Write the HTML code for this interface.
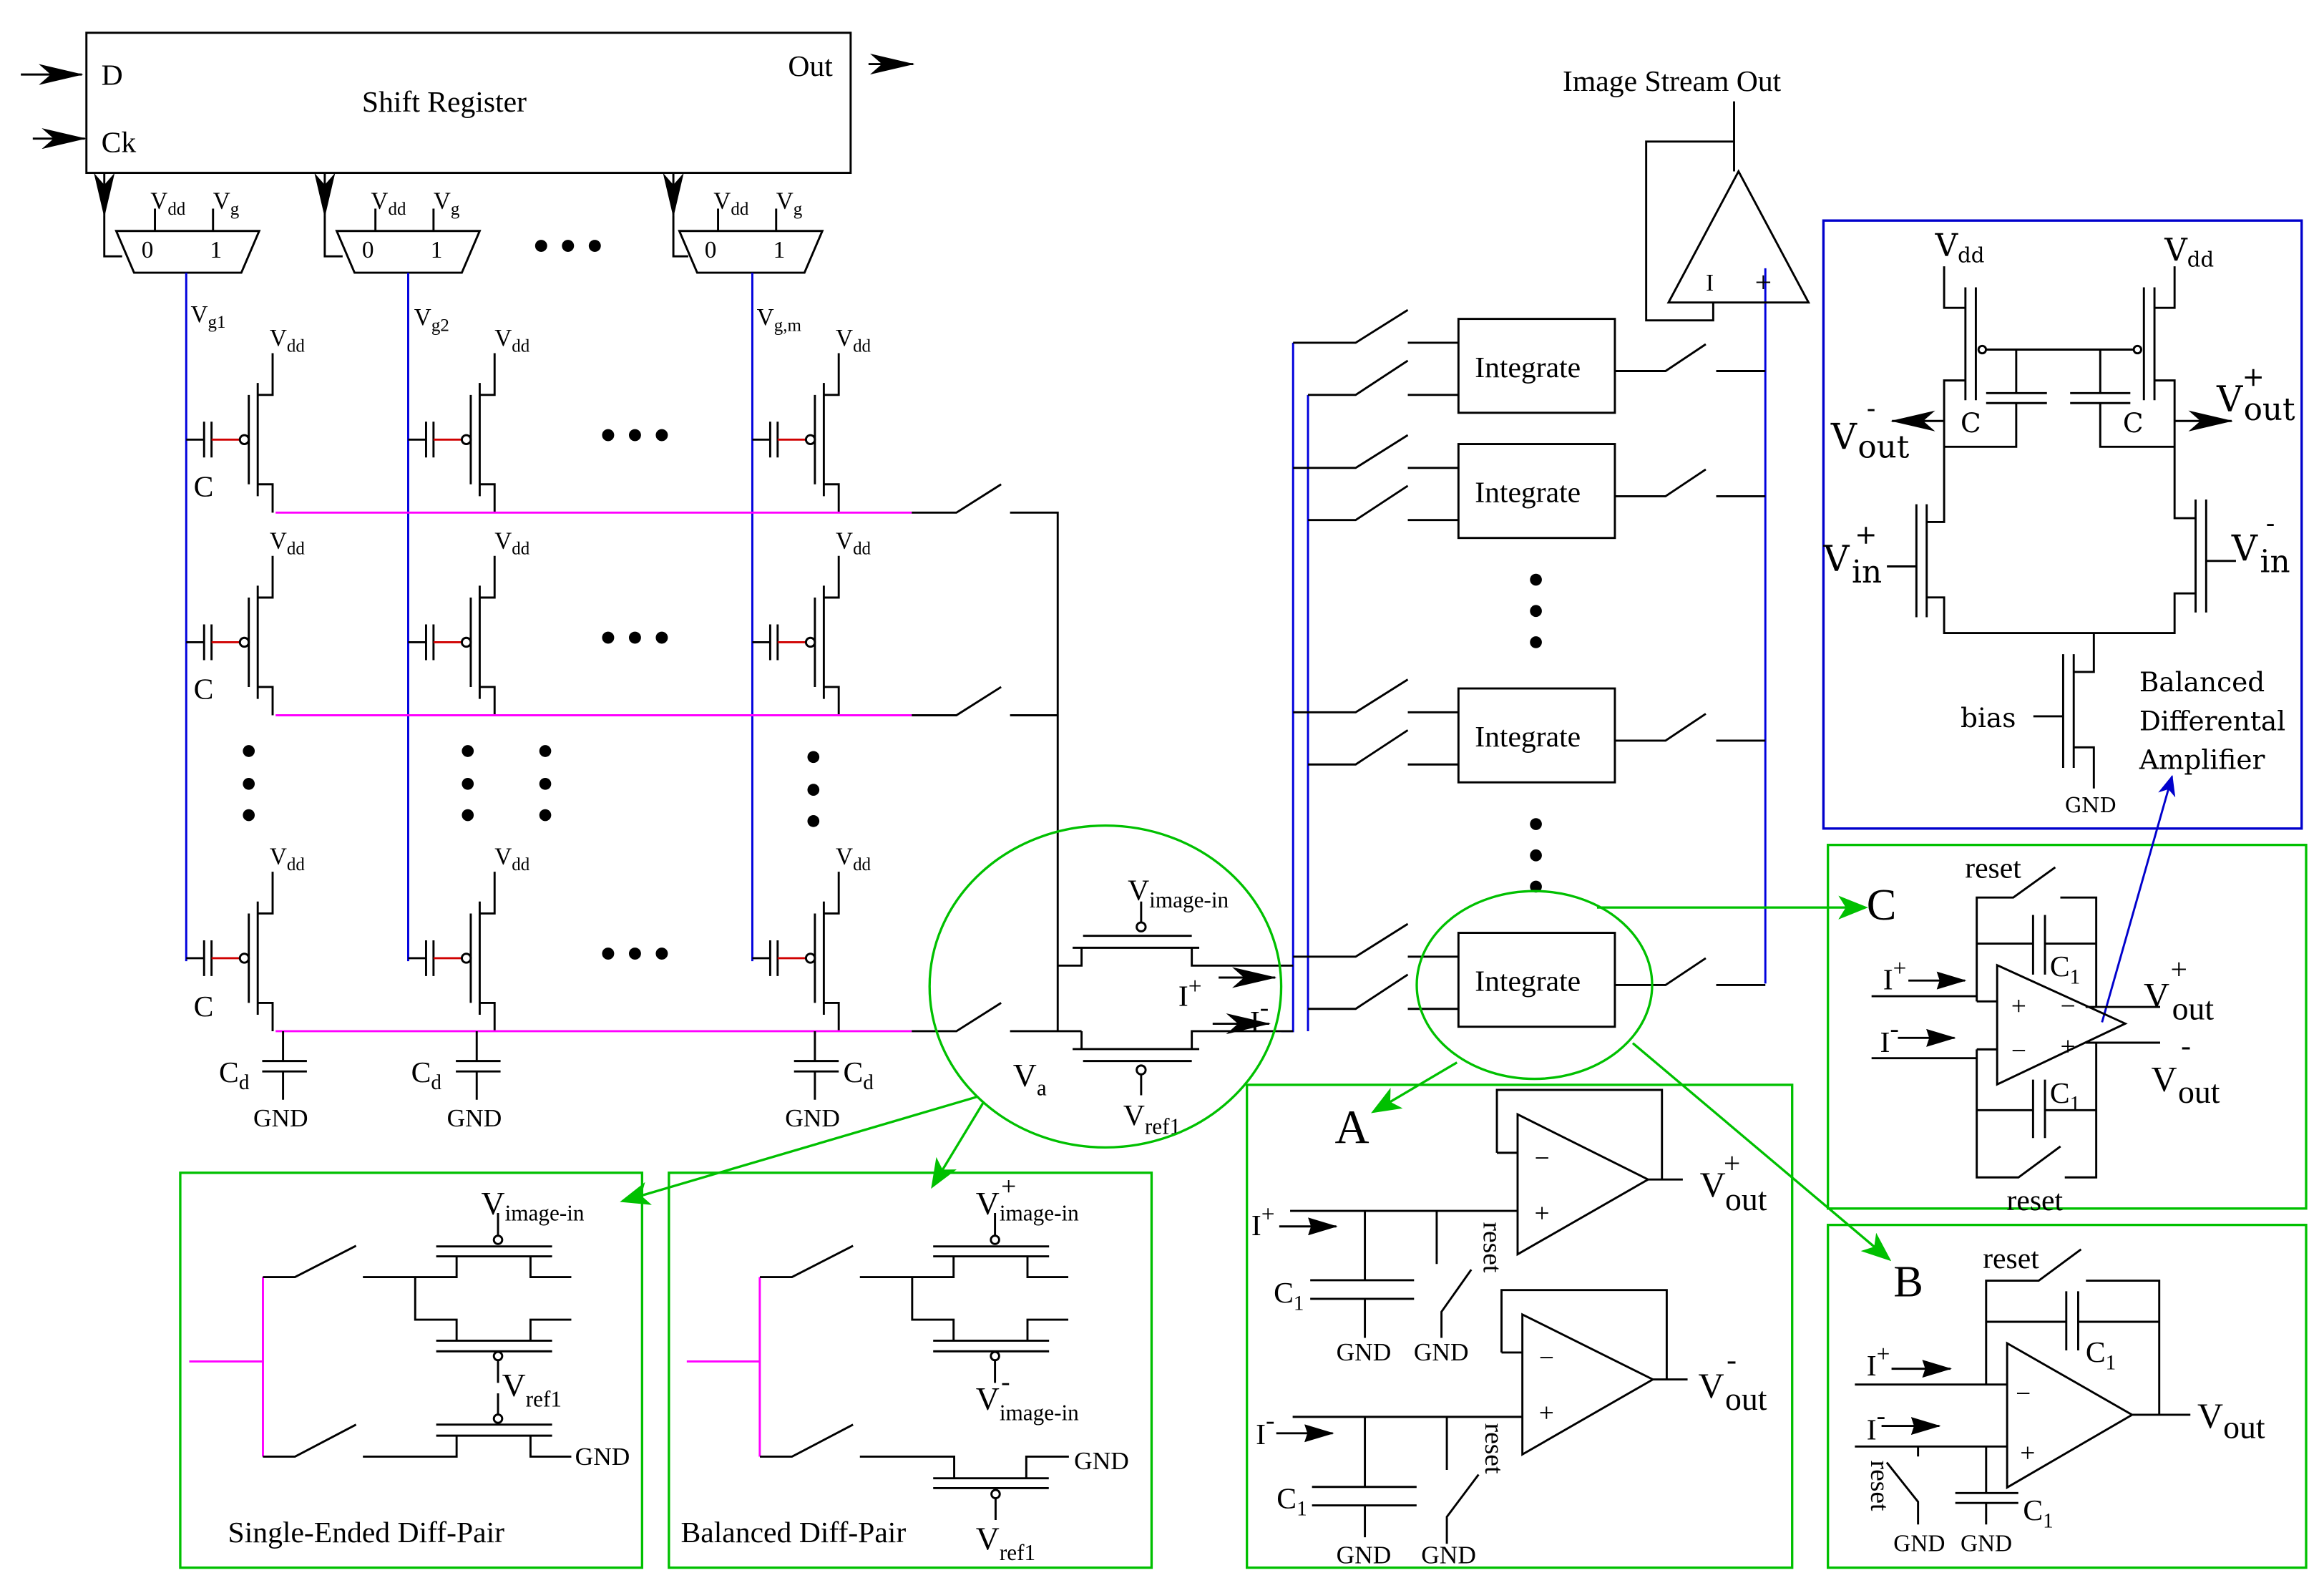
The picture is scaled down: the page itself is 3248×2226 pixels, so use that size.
<!DOCTYPE html>
<html><head><meta charset="utf-8"><style>
html,body{margin:0;padding:0;background:#fff}
svg{display:block}
text{font-family:"Liberation Serif",serif;fill:#000}
.dj{font-family:"DejaVu Serif","Liberation Serif",serif}
</style></head><body>
<svg width="3248" height="2226" viewBox="0 0 1560 1069" preserveAspectRatio="none" xmlns="http://www.w3.org/2000/svg">
<defs>
<marker id="ag" markerWidth="20" markerHeight="16" refX="18" refY="8" orient="auto" markerUnits="userSpaceOnUse"><path d="M0,0 L20,8 L0,16 L5,8z" fill="#00c000"/></marker>
<marker id="ablue" markerWidth="14" markerHeight="12" refX="13" refY="6" orient="auto" markerUnits="userSpaceOnUse"><path d="M0,0 L14,6 L0,12 L4,6z" fill="#0000cc"/></marker>
<marker id="abig" markerWidth="30" markerHeight="14" refX="29" refY="7" orient="auto" markerUnits="userSpaceOnUse"><path d="M0,0 L30,7 L0,14 L8,7z" fill="#000"/></marker>
<marker id="asm" markerWidth="20" markerHeight="12" refX="19" refY="6" orient="auto" markerUnits="userSpaceOnUse"><path d="M0,0 L20,6 L0,12 L2,6z" fill="#000"/></marker>
<g id="cell" fill="none" stroke="#000" stroke-width="1.4">
<path d="M0,0 H12 M12,-12 V12 M17,-12 V12 M42,-30 V30 M48,-38 V38 M48,-30 H58 V-58 M48,30 H58 V49"/>
<path d="M17,0 H36" stroke="#d00000"/>
<circle cx="39" cy="0" r="3"/>
</g>
<g id="mux" fill="none" stroke="#000" stroke-width="1.4">
<path d="M0,155 H96 L84,183 H12 Z M26,155 V140 M65,155 V140"/>
</g>
<g id="dp" fill="none" stroke="#000" stroke-width="1.4">
<!-- relative to single-ended panel origin -->
<path d="M127,913.6 M176.5,857 H198 L239,836 M243.6,857 H306.5 V843 M356.1,843 V857 H383.5 M292.8,836.4 H370.6 M292.8,843.1 H370.6 M334.3,829 V814"/>
<circle cx="334.3" cy="832" r="2.8"/>
<path d="M278.7,857 V885.6 H306.5 V899.7 M356.1,899.7 V885.6 H383.5 M292.8,899.7 H370.6 M292.8,906.8 H370.6"/>
<circle cx="334.3" cy="910" r="2.8"/>
<path d="M176.5,977.5 H198 L239,956"/>
</g>
</defs>

<g fill="none" stroke="#000" stroke-width="1.4">
<rect x="58" y="22" width="513" height="94"/>
<path d="M14,50 H55" marker-end="url(#abig)"/>
<path d="M22,93 H57" marker-end="url(#abig)"/>
<path d="M583,43 H613" marker-end="url(#abig)"/>
<path d="M70,116 V145" marker-end="url(#abig)"/>
<path d="M218,116 V145" marker-end="url(#abig)"/>
<path d="M452,116 V145" marker-end="url(#abig)"/>
<path d="M70,145 V172 H82 M218,145 V172 H230 M452,145 V172 H462"/>
</g>
<text x="68" y="57" font-size="20">D</text>
<text x="68" y="102" font-size="20">Ck</text>
<text x="243" y="75" font-size="20">Shift Register</text>
<text x="529" y="51" font-size="20">Out</text>

<use href="#mux" x="78"/><use href="#mux" x="226"/><use href="#mux" x="456"/>
<g font-size="16">
<text x="95" y="173">0</text><text x="141" y="173">1</text>
<text x="243" y="173">0</text><text x="289" y="173">1</text>
<text x="473" y="173">0</text><text x="519" y="173">1</text>
<text x="101" y="140">V<tspan font-size="12" dy="4">dd</tspan></text><text x="143" y="140">V<tspan font-size="12" dy="4">g</tspan></text>
<text x="249" y="140">V<tspan font-size="12" dy="4">dd</tspan></text><text x="291" y="140">V<tspan font-size="12" dy="4">g</tspan></text>
<text x="479" y="140">V<tspan font-size="12" dy="4">dd</tspan></text><text x="521" y="140">V<tspan font-size="12" dy="4">g</tspan></text>
</g>
<g font-size="30" font-weight="bold"><text x="358" y="175">• • •</text></g>

<g stroke="#0000dd" stroke-width="1.4" fill="none">
<path d="M125,183 V645 M274,183 V645 M505,183 V645"/>
<path d="M868,230 V692 H860 M878,265 V692"/>
<path d="M1185,180 V660"/>
</g>
<g font-size="16">
<text x="128" y="216">V<tspan font-size="12" dy="4">g1</tspan></text>
<text x="278" y="218">V<tspan font-size="12" dy="4">g2</tspan></text>
<text x="508" y="218">V<tspan font-size="12" dy="4">g,m</tspan></text>
</g>

<use href="#cell" x="125" y="295"/><use href="#cell" x="274" y="295"/><use href="#cell" x="505" y="295"/>
<use href="#cell" x="125" y="431"/><use href="#cell" x="274" y="431"/><use href="#cell" x="505" y="431"/>
<use href="#cell" x="125" y="643"/><use href="#cell" x="274" y="643"/><use href="#cell" x="505" y="643"/>
<g font-size="16">
<text x="181" y="232">V<tspan font-size="12" dy="4">dd</tspan></text><text x="332" y="232">V<tspan font-size="12" dy="4">dd</tspan></text><text x="561" y="232">V<tspan font-size="12" dy="4">dd</tspan></text>
<text x="181" y="368">V<tspan font-size="12" dy="4">dd</tspan></text><text x="332" y="368">V<tspan font-size="12" dy="4">dd</tspan></text><text x="561" y="368">V<tspan font-size="12" dy="4">dd</tspan></text>
<text x="181" y="580">V<tspan font-size="12" dy="4">dd</tspan></text><text x="332" y="580">V<tspan font-size="12" dy="4">dd</tspan></text><text x="561" y="580">V<tspan font-size="12" dy="4">dd</tspan></text>
</g>
<g font-size="20"><text x="130" y="333">C</text><text x="130" y="469">C</text><text x="130" y="682">C</text></g>
<g font-size="30" font-weight="bold"><text x="403" y="302">• • •</text><text x="403" y="438">• • •</text><text x="403" y="650">• • •</text></g>
<g fill="#000"><circle cx="167" cy="504" r="4"/><circle cx="167" cy="526" r="4"/><circle cx="167" cy="547" r="4"/>
<circle cx="314" cy="504" r="4"/><circle cx="314" cy="526" r="4"/><circle cx="314" cy="547" r="4"/>
<circle cx="366" cy="504" r="4"/><circle cx="366" cy="526" r="4"/><circle cx="366" cy="547" r="4"/>
<circle cx="546" cy="508" r="4"/><circle cx="546" cy="530" r="4"/><circle cx="546" cy="551" r="4"/>
<circle cx="1031" cy="389" r="4"/><circle cx="1031" cy="410" r="4"/><circle cx="1031" cy="431" r="4"/>
<circle cx="1031" cy="553" r="4"/><circle cx="1031" cy="574" r="4"/><circle cx="1031" cy="595" r="4"/></g>

<g stroke="#ff00ff" stroke-width="1.4" fill="none"><path d="M185,344 H612 M185,480 H612 M185,692 H612"/>
<path d="M127,913.6 H176.5 M176.5,857 V977.5 M461,913.6 H510 M510,857 V977.5"/></g>

<g fill="none" stroke="#000" stroke-width="1.4">
<path d="M612,344 H642 L672,325 M678,344 H710 V692"/>
<path d="M612,480 H642 L672,461 M678,480 H710"/>
<path d="M612,692 H642 L672,673 M678,692 H726"/>
<path d="M190,692 V712 M176,712 H206 M176,719 H206 M190,719 V738"/>
<path d="M320,692 V712 M306,712 H336 M306,719 H336 M320,719 V738"/>
<path d="M547,692 V712 M533,712 H563 M533,719 H563 M547,719 V738"/>
<path d="M727,628 H800 M766,619 V605 M720,636 H805 M726,636 V648 H710 M800,636 V648 H868"/>
<circle cx="766" cy="622" r="3"/>
<path d="M727,712 H800 M766,721 V735 M720,704 H805 M726,704 V692 M800,704 V692 H868"/>
<circle cx="766" cy="718" r="3"/>
<path d="M818,656 H856" marker-end="url(#abig)"/>
<path d="M814,687 H852" marker-end="url(#abig)"/>
<path d="M868,230 H910 L945,208 M878,265 H910 L945,242 M945,230 H979 M945,265 H979"/>
<path d="M868,314 H910 L945,292 M878,349 H910 L945,326 M945,314 H979 M945,349 H979"/>
<path d="M868,478 H910 L945,456 M878,513 H910 L945,490 M945,478 H979 M945,513 H979"/>
<path d="M868,642 H910 L945,620 M878,677 H910 L945,654 M945,642 H979 M945,677 H979"/>
<rect x="979" y="214" width="105" height="63"/><rect x="979" y="298" width="105" height="63"/>
<rect x="979" y="462" width="105" height="63"/><rect x="979" y="626" width="105" height="63"/>
<path d="M1084,249 H1118 L1145,231 M1152,249 H1185"/>
<path d="M1084,333 H1118 L1145,315 M1152,333 H1185"/>
<path d="M1084,497 H1118 L1145,479 M1152,497 H1185"/>
<path d="M1084,661 H1118 L1145,643 M1152,661 H1185"/>
<path d="M1167,115 L1120,203 H1214 Z"/>
<path d="M1164,68 V115 M1164,95 H1105 V215 H1150 V203"/>
</g>
<g font-size="20">
<text x="990" y="253">Integrate</text><text x="990" y="337">Integrate</text><text x="990" y="501">Integrate</text><text x="990" y="665">Integrate</text>
<text x="1049" y="61">Image Stream Out</text>
<text x="1145" y="195" font-size="16">I</text><text x="1178" y="196" font-size="20">+</text>
<text x="147" y="726">C<tspan font-size="14" dy="5">d</tspan></text>
<text x="276" y="726">C<tspan font-size="14" dy="5">d</tspan></text>
<text x="566" y="726">C<tspan font-size="14" dy="5">d</tspan></text>
<text x="170" y="756" font-size="17">GND</text><text x="300" y="756" font-size="17">GND</text><text x="527" y="756" font-size="17">GND</text>
<text x="757" y="604">V<tspan font-size="15" dy="5">image-in</tspan></text>
<text x="754" y="755">V<tspan font-size="15" dy="6">ref1</tspan></text>
<text x="680" y="729" font-size="22">V<tspan font-size="15" dy="6">a</tspan></text>
<text x="791" y="675">I<tspan font-size="16" dy="-8">+</tspan></text>
<text x="839" y="692">I<tspan font-size="18" dy="-10">-</tspan></text>
</g>

<!-- green ellipses & boxes -->
<g fill="none" stroke="#00c000" stroke-width="1.6">
<ellipse cx="742" cy="662" rx="118" ry="108"/>
<ellipse cx="1030" cy="661" rx="79" ry="63"/>
<rect x="121" y="787" width="310" height="265"/>
<rect x="449" y="787" width="324" height="265"/>
<rect x="837" y="728" width="366" height="324"/>
<rect x="1227" y="567" width="321" height="244"/>
<rect x="1227" y="822" width="321" height="230"/>
<path d="M656,736 L418,806" marker-end="url(#ag)"/>
<path d="M660,740 L626,796" marker-end="url(#ag)"/>
<path d="M978,713 L922,746" marker-end="url(#ag)"/>
<path d="M1072,609 H1252" marker-end="url(#ag)"/>
<path d="M1096,700 L1268,845" marker-end="url(#ag)"/>
</g>
<path d="M1411,686 L1458,521" stroke="#0000cc" stroke-width="1.4" fill="none" marker-end="url(#ablue)"/>

<!-- blue box -->
<rect x="1224" y="148" width="321" height="408" fill="none" stroke="#0000cc" stroke-width="1.6"/>
<g fill="none" stroke="#000" stroke-width="1.4">
<path d="M1305,178.7 V206.6 H1319.3 M1319.3,192.8 V268.6 M1326.3,192.8 V268.6 M1319.3,255.3 H1305 V350.3 H1293.3"/>
<circle cx="1330.6" cy="234.6" r="2.5"/><circle cx="1434.8" cy="234.6" r="2.5"/>
<path d="M1333,234.6 H1432 M1353.4,234.6 V263.8 M1333.2,263.8 H1374 M1333.2,270.5 H1374 M1353.4,270.5 V299.8 H1305"/>
<path d="M1409.8,234.6 V263.8 M1389.6,263.8 H1430 M1389.6,270.5 H1430 M1409.8,270.5 V299.8 H1459.7"/>
<path d="M1459.7,178.7 V206.6 H1446.2 M1446.2,192.8 V268.6 M1439.1,192.8 V268.6 M1446.2,255.3 H1459.7 V347.7 H1473.8"/>
<path d="M1305,282.5 H1270" marker-end="url(#abig)"/>
<path d="M1459.7,282.5 H1498" marker-end="url(#abig)"/>
<path d="M1293.3,338.4 V414.2 M1286.4,338.4 V414.2 M1266.6,380.1 H1286.4 M1293.3,400.9 H1305 V424.8 H1459.7 V398.2 H1473.8 M1473.8,335.2 V411 M1480.9,335.2 V411 M1480.9,376.4 H1500.9"/>
<path d="M1405.5,424.8 V450.9 H1392 M1392,439 V515.3 M1384.9,439 V515.3 M1364.9,480.7 H1384.9 M1392,501.5 H1405.5 V529.1"/>
</g>
<g class="dj">
<text x="1299" y="172" font-size="21" class="dj">V<tspan font-size="14" dy="4">dd</tspan></text>
<text x="1453" y="175" font-size="21" class="dj">V<tspan font-size="14" dy="4">dd</tspan></text>
<text x="1316" y="290" font-size="18" class="dj">C</text><text x="1425" y="290" font-size="18" class="dj">C</text>
<text x="1229" y="301" font-size="24" class="dj">V</text><text x="1253" y="280" font-size="18" class="dj">-</text><text x="1247" y="307" font-size="21" class="dj">out</text>
<text x="1488" y="276" font-size="24" class="dj">V</text><text x="1505" y="259" font-size="18" class="dj">+</text><text x="1506" y="282" font-size="21" class="dj">out</text>
<text x="1224" y="383" font-size="24" class="dj">V</text><text x="1245" y="365" font-size="18" class="dj">+</text><text x="1243" y="391" font-size="21" class="dj">in</text>
<text x="1498" y="376" font-size="24" class="dj">V</text><text x="1521" y="357" font-size="18" class="dj">-</text><text x="1517" y="384" font-size="21" class="dj">in</text>
<text x="1316" y="488" font-size="18" class="dj">bias</text>
<text x="1386" y="545" font-size="14" class="dj">GND</text>
<text x="1436" y="464" font-size="18" class="dj">Balanced</text>
<text x="1436" y="490" font-size="18" class="dj">Differental</text>
<text x="1436" y="516" font-size="18" class="dj">Amplifier</text>
</g>

<!-- C box -->
<g fill="none" stroke="#000" stroke-width="1.4">
<path d="M1326.9,672 V602.3 H1351.4 L1379.6,582 M1383,602.3 H1407.1 V675.7"/>
<path d="M1326.9,633.2 H1364.7 M1372.7,633.2 H1407.1 M1364.7,614 V654 M1372.7,614 V654"/>
<path d="M1326.9,672 H1340.6 M1256.3,668.5 H1326.9 M1256.3,710.1 H1326.9 M1326.9,704.2 V790.1 H1354.9 L1383.1,769.3 M1386,790.1 H1407.1 V699.7 M1326.9,704.2 H1340.6"/>
<path d="M1326.9,745 H1364.7 M1372.7,745 H1407.1 M1364.7,724.5 V763.7 M1372.7,724.5 V763.7"/>
<path d="M1340.6,647.7 V727.7 L1426.6,686.9 Z"/>
<path d="M1400,675.7 H1450 M1400,699.7 H1450"/>
<path d="M1281,658 H1319" marker-end="url(#asm)"/>
<path d="M1274,696.5 H1312" marker-end="url(#asm)"/>
</g>
<g font-size="20">
<text x="1253" y="617" font-size="30">C</text>
<text x="1319" y="589">reset</text>
<text x="1347" y="812">reset</text>
<text x="1376" y="655">C<tspan font-size="14" dy="5">1</tspan></text>
<text x="1376" y="740">C<tspan font-size="14" dy="5">1</tspan></text>
<text x="1350" y="681" font-size="18">+</text><text x="1383" y="681" font-size="18">−</text>
<text x="1350" y="711" font-size="18">−</text><text x="1383" y="708" font-size="18">+</text>
<text x="1264" y="664">I<tspan font-size="16" dy="-9">+</tspan></text>
<text x="1262" y="706">I<tspan font-size="18" dy="-10">-</tspan></text>
<text x="1439" y="676" font-size="24">V</text><text x="1457" y="657">+</text><text x="1458" y="684" font-size="22">out</text>
<text x="1444" y="732" font-size="24">V</text><text x="1464" y="708">-</text><text x="1462" y="740" font-size="22">out</text>
</g>

<!-- B box -->
<g fill="none" stroke="#000" stroke-width="1.4">
<path d="M1333.2,929.1 V859.4 H1368.5 L1396.9,838.4 M1400.2,859.4 H1449.4 V949.4"/>
<path d="M1333.2,887 H1387 M1395,887 H1449.4 M1387,866.5 V906.2 M1395,866.5 V906.2"/>
<path d="M1347.3,901.4 V998.2 L1431.2,949.4 Z M1431.2,949.4 H1470.3"/>
<path d="M1245.1,929.1 H1347.3 M1245.1,970.7 H1347.3"/>
<path d="M1333.2,970.7 V1001.9 M1312.5,1001.9 H1354.8 M1312.5,1008.6 H1354.8 M1333.2,1008.6 V1023"/>
<path d="M1287.5,970.7 V977.4 M1266.5,981.4 L1287.5,1007.8 V1023"/>
<path d="M1269.7,918.5 H1309.3" marker-end="url(#asm)"/>
<path d="M1263,956.9 H1301.8" marker-end="url(#asm)"/>
</g>
<g font-size="20">
<text x="1271" y="870" font-size="30">B</text>
<text x="1331" y="851">reset</text>
<text x="1400" y="914">C<tspan font-size="14" dy="5">1</tspan></text>
<text x="1358" y="1020">C<tspan font-size="14" dy="5">1</tspan></text>
<text x="1353" y="941" font-size="18">−</text><text x="1356" y="981" font-size="18">+</text>
<text x="1253" y="923">I<tspan font-size="16" dy="-9">+</tspan></text>
<text x="1253" y="966">I<tspan font-size="18" dy="-10">-</tspan></text>
<text x="1475" y="958" font-size="24">V<tspan font-size="22" dy="7">out</tspan></text>
<text x="1271" y="1041" font-size="16">GND</text><text x="1316" y="1041" font-size="16">GND</text>
<text transform="translate(1256,980) rotate(90)" font-size="18">reset</text>
</g>

<!-- A box -->
<g fill="none" stroke="#000" stroke-width="1.4">
<path d="M1018.7,747.8 V841.7 L1106.3,791.5 Z M1004.8,773.6 H1018.7 M1004.8,773.6 V731.4 H1115.6 V791.5 M1106.3,791.5 H1129.6"/>
<path d="M866,812.6 H1018.7 M916.2,812.6 V859.1 M879.5,859.1 H949.2 M879.5,871.6 H949.2 M916.2,871.6 V897.8 M964.4,812.6 V848.2 M987.6,852 L967.6,880.3 V897.8"/>
<path d="M1021.9,882.1 V976 L1109.5,925.7 Z M1007.9,907.6 H1021.9 M1007.9,907.6 V865.7 H1118.8 V925.7 M1109.5,925.7 H1132.8"/>
<path d="M867.7,950.8 H1021.9 M916.2,950.8 V997.8 M880.7,997.8 H950.9 M880.7,1010.2 H950.9 M916.2,1010.2 V1031.6 M971.2,950.8 V986.4 M992.5,989.5 L971.2,1017.9 V1036"/>
<path d="M858.7,823 H897" marker-end="url(#asm)"/>
<path d="M856.7,961.8 H894.6" marker-end="url(#asm)"/>
</g>
<g font-size="20">
<text x="896" y="767" font-size="32">A</text>
<text x="1030" y="783" font-size="18">−</text><text x="1030" y="820" font-size="18">+</text>
<text x="1033" y="917" font-size="18">−</text><text x="1033" y="954" font-size="18">+</text>
<text x="840" y="829">I<tspan font-size="16" dy="-9">+</tspan></text>
<text x="843" y="969">I<tspan font-size="18" dy="-10">-</tspan></text>
<text x="855" y="874">C<tspan font-size="14" dy="5">1</tspan></text>
<text x="857" y="1012">C<tspan font-size="14" dy="5">1</tspan></text>
<text x="897" y="913" font-size="17">GND</text><text x="949" y="913" font-size="17">GND</text>
<text x="897" y="1049" font-size="17">GND</text><text x="954" y="1049" font-size="17">GND</text>
<text transform="translate(996,820) rotate(90)" font-size="18">reset</text>
<text transform="translate(997,955) rotate(90)" font-size="18">reset</text>
<text x="1141" y="803" font-size="24">V</text><text x="1157" y="787">+</text><text x="1158" y="812" font-size="22">out</text>
<text x="1140" y="938" font-size="24">V</text><text x="1159" y="919">-</text><text x="1158" y="946" font-size="22">out</text>
</g>

<!-- Single-ended diff pair -->
<use href="#dp"/>
<g fill="none" stroke="#000" stroke-width="1.4">
<path d="M334.3,913 V928 M334.3,935 V949 M292.8,956 H370.6 M292.8,963.4 H370.6 M243.6,977.5 H306.5 V963.4 M356.1,963.4 V977.5 H383.5"/>
<circle cx="334.3" cy="952" r="2.8"/>
</g>
<text x="323" y="815" font-size="22">V<tspan font-size="15" dy="4">image-in</tspan></text>
<text x="337" y="937" font-size="22">V<tspan font-size="15" dy="7">ref1</tspan></text>
<text x="386" y="983" font-size="17">GND</text>
<text x="153" y="1035" font-size="20">Single-Ended Diff-Pair</text>

<!-- Balanced diff pair -->
<use href="#dp" x="333.6"/>
<g fill="none" stroke="#000" stroke-width="1.4">
<path d="M667.9,913 V928 M577.2,977.5 H640.5 V992 M688.9,992 V977.5 H717.5 M626.4,992 H704 M626.4,998.6 H704 M668.3,1005.5 V1020"/>
<circle cx="668.3" cy="1002.6" r="2.8"/>
</g>
<text x="655" y="815" font-size="22">V<tspan font-size="15" dy="4">image-in</tspan></text><text x="672" y="802" font-size="18">+</text>
<text x="655" y="946" font-size="22">V<tspan font-size="15" dy="7">image-in</tspan></text><text x="672" y="933" font-size="18">-</text>
<text x="721" y="986" font-size="17">GND</text>
<text x="655" y="1040" font-size="22">V<tspan font-size="15" dy="7">ref1</tspan></text>
<text x="457" y="1035" font-size="20">Balanced Diff-Pair</text>
</svg>
</body></html>
